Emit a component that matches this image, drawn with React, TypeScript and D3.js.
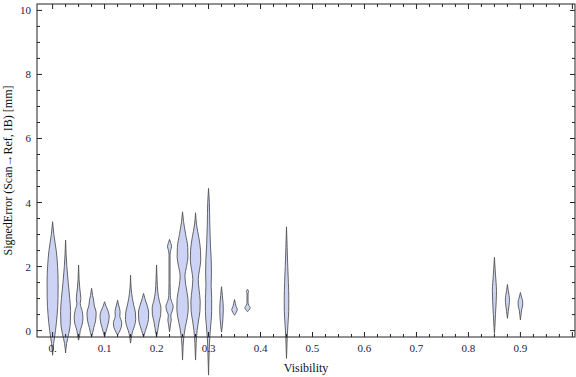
import * as d3 from 'd3';

// violin centres (Visibility)
const positions = [0, 0.025, 0.05, 0.075, 0.1, 0.125, 0.15, 0.175, 0.2, 0.225, 0.25, 0.275, 0.3, 0.325, 0.35, 0.375, 0.45, 0.85, 0.875, 0.9];

// density profile per violin: [signedError, relative half-width]
const profiles: [number, number][][] = [
  [[3.4, 0], [3.0, 1.2], [2.5, 3.5], [2.0, 4.8], [1.5, 5.3], [1.0, 5.2], [0.5, 4.4], [0, 2.8], [-0.4, 1], [-0.77, 0]],
  [[2.83, 0], [2.4, 0.5], [2.0, 1.2], [1.5, 2.5], [1.0, 4.0], [0.6, 4.8], [0.2, 4.5], [-0.1, 3], [-0.4, 1], [-0.7, 0]],
  [[2.05, 0], [1.6, 0.5], [1.3, 1.2], [1.0, 2.2], [0.85, 1.6], [0.6, 3.5], [0.4, 4.2], [0.2, 3.5], [0, 1.6], [-0.15, 1.0], [-0.3, 0]],
  [[1.32, 0], [1.1, 1], [0.95, 2.0], [0.8, 2.5], [0.55, 4.4], [0.3, 3.8], [0.1, 2.2], [-0.05, 1.2], [-0.19, 0]],
  [[0.9, 0], [0.75, 1.5], [0.6, 3.5], [0.45, 4.4], [0.3, 4.0], [0.1, 2.5], [-0.05, 1.2], [-0.19, 0]],
  [[0.95, 0], [0.8, 1.0], [0.6, 2.4], [0.45, 2.2], [0.25, 4.0], [0.1, 3.5], [-0.05, 1.5], [-0.14, 0]],
  [[1.73, 0], [1.3, 0.6], [1.0, 1.8], [0.8, 3.0], [0.55, 4.7], [0.35, 4.9], [0.15, 3.8], [0, 2.2], [-0.2, 0.8], [-0.39, 0]],
  [[1.16, 0], [1.0, 1.3], [0.8, 3.3], [0.55, 4.9], [0.35, 4.7], [0.15, 3.3], [0, 1.8], [-0.2, 0]],
  [[2.05, 0], [1.6, 0.5], [1.2, 1.2], [0.95, 2.5], [0.7, 4.2], [0.5, 4.0], [0.3, 2.6], [0.1, 1.6], [-0.2, 0]],
  [[2.85, 0], [2.75, 1.0], [2.62, 2.0], [2.5, 1.0], [2.35, 0.5], [1.5, 0.5], [1.1, 0.7], [0.95, 1.5], [0.75, 3.5], [0.6, 2.5], [0.48, 1.2], [0.33, 1.6], [0.2, 1.0], [-0.04, 0]],
  [[3.71, 0], [3.4, 1.0], [3.0, 3.0], [2.6, 5.0], [2.3, 5.2], [2.0, 3.8], [1.7, 2.3], [1.4, 3.2], [1.0, 5.2], [0.7, 5.5], [0.4, 4.5], [0.1, 2.6], [-0.2, 1.2], [-0.5, 0.5], [-0.92, 0]],
  [[3.68, 0], [3.3, 1.0], [2.9, 3.2], [2.5, 4.8], [2.2, 5.0], [1.9, 3.8], [1.6, 2.6], [1.3, 3.3], [0.9, 4.5], [0.6, 4.2], [0.3, 2.8], [0, 1.5], [-0.4, 0.6], [-0.92, 0]],
  [[4.44, 0], [4.0, 0.8], [3.3, 1.2], [2.7, 1.8], [2.2, 2.6], [1.8, 2.8], [1.4, 2.5], [1.0, 3.0], [0.6, 3.0], [0.2, 2.2], [-0.2, 1.2], [-0.7, 0.6], [-1.39, 0]],
  [[1.37, 0], [1.1, 0.8], [0.85, 1.5], [0.65, 1.7], [0.4, 1.4], [0.15, 0.8], [-0.05, 0]],
  [[0.97, 0], [0.85, 0.8], [0.75, 1.5], [0.66, 2.7], [0.58, 1.8], [0.48, 0]],
  [[1.29, 0], [1.22, 1.0], [1.15, 0.5], [0.9, 0.5], [0.8, 1.0], [0.72, 2.5], [0.65, 1.6], [0.59, 0]],
  [[3.24, 0], [2.6, 0.6], [2.0, 1.2], [1.5, 1.8], [1.0, 2.2], [0.6, 2.1], [0.2, 1.4], [-0.2, 0.7], [-0.87, 0]],
  [[2.29, 0], [1.9, 0.7], [1.5, 1.6], [1.25, 2.0], [0.9, 1.7], [0.5, 1.0], [0.1, 0.4], [-0.09, 0]],
  [[1.44, 0], [1.25, 0.8], [1.1, 1.6], [0.95, 2.0], [0.8, 1.6], [0.6, 0.8], [0.38, 0]],
  [[1.19, 0], [1.05, 1.0], [0.9, 2.2], [0.8, 2.2], [0.65, 1.2], [0.5, 0.6], [0.33, 0]],
];

const xTickValues = [0, 0.1, 0.2, 0.3, 0.4, 0.5, 0.6, 0.7, 0.8, 0.9];
const xTickLabels = ['0.', '0.1', '0.2', '0.3', '0.4', '0.5', '0.6', '0.7', '0.8', '0.9'];
const yTickValues = [0, 2, 4, 6, 8, 10];

const W = 576;
const H = 377;
const margin = { left: 37, right: 1, top: 4, bottom: 40 };
const font = '"Liberation Serif", "Times New Roman", serif';

export default function App() {
  const x = d3.scaleLinear().domain([-0.03, 1.005]).range([margin.left, W - margin.right]);
  const y = d3.scaleLinear().domain([-0.2, 10.2]).range([H - margin.bottom, margin.top]);
  const wScale = d3.scaleLinear().domain([0, 10]).range([0, x(0.02) - x(0)]);

  const x0 = margin.left;
  const x1 = W - margin.right;
  const y0 = H - margin.bottom;
  const y1 = margin.top;

  const xMinor = d3.range(0, 1.0001, 0.025);
  const yMinor = d3.range(0, 10.0001, 0.5);

  const tickColor = '#222';

  return (
    <svg width={W} height={H} style={{ position: 'absolute', left: 0, top: 0, background: '#fff' }} fontFamily={font}>
      {/* violins */}
      {positions.map((p, i) => {
        const area = d3.area<[number, number]>()
          .y(d => y(d[0]))
          .x0(d => x(p) - wScale(d[1]))
          .x1(d => x(p) + wScale(d[1]))
          .curve(d3.curveMonotoneY);
        return (
          <path key={i} d={area(profiles[i]) || ''} fill="#ccd3f4" stroke="#555" strokeWidth={0.9} strokeLinejoin="round" />
        );
      })}

      {/* frame */}
      <rect x={x0} y={y1} width={x1 - x0} height={y0 - y1} fill="none" stroke="#222" strokeWidth={1} />

      {/* x ticks, bottom and top */}
      {xMinor.map((v, i) => {
        const major = Math.abs(v * 10 - Math.round(v * 10)) < 1e-6;
        const len = major ? 5 : 3;
        return (
          <g key={'xt' + i} stroke={tickColor} strokeWidth={1}>
            <line x1={x(v)} x2={x(v)} y1={y0} y2={y0 - len} />
            <line x1={x(v)} x2={x(v)} y1={y1} y2={y1 + len} />
          </g>
        );
      })}
      {/* y ticks, left and right */}
      {yMinor.map((v, i) => {
        const major = Math.abs(v / 2 - Math.round(v / 2)) < 1e-6;
        const len = major ? 5 : 3;
        return (
          <g key={'yt' + i} stroke={tickColor} strokeWidth={1}>
            <line x1={x0} x2={x0 + len} y1={y(v)} y2={y(v)} />
            <line x1={x1} x2={x1 - len} y1={y(v)} y2={y(v)} />
          </g>
        );
      })}

      {xTickValues.map((v, i) => (
        <text key={'xl' + i} x={x(v)} y={y0 + 15} textAnchor="middle" fontSize={11} fill="#1c1c3c">{xTickLabels[i]}</text>
      ))}
      {yTickValues.map((v, i) => (
        <text key={'yl' + i} x={x0 - 6} y={y(v) + 4} textAnchor="end" fontSize={11} fill="#1c1c3c">{v}</text>
      ))}

      <text x={(x0 + x1) / 2} y={H - 5} textAnchor="middle" fontSize={12} fill="#111">Visibility</text>
      <text transform={`translate(12,${(y0 + y1) / 2}) rotate(-90)`} textAnchor="middle" fontSize={12} fill="#111">
        SignedError (Scan→Ref, IB) [mm]
      </text>
    </svg>
  );
}
